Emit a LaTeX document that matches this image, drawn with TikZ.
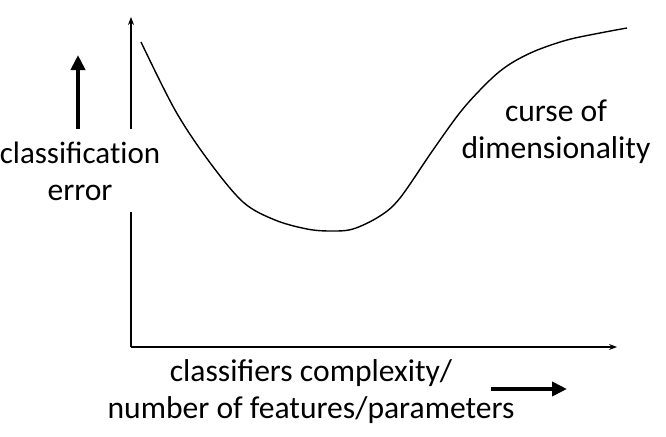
\documentclass[tikz,border=0pt]{standalone}
\usepackage{fontspec}
\setmainfont{Carlito}
\usetikzlibrary{arrows.meta}
\begin{document}
\begin{tikzpicture}[x=1pt,y=-1pt,
  axis/.style={line width=1.1pt,-{Stealth[length=8pt,width=6pt]}},
  plainaxis/.style={line width=1.1pt},
  bigarrow/.style={line width=4pt,-{Triangle[length=15pt,width=14pt]}},
  lbl/.style={font=\fontsize{31.6}{36.5}\selectfont,align=center,inner sep=0pt,anchor=base},
  curve/.style={line width=1.4pt}]
\useasboundingbox (0,0) rectangle (666,436);
% axes
\coordinate (origin) at (131,347);
\coordinate (ygapbottom) at (131,212);
\coordinate (ygaptop) at (131,129);
\coordinate (ytip) at (131,17);
\coordinate (xtip) at (617,347);
\draw[plainaxis] (origin) -- (ygapbottom);
\draw[axis] (ygaptop) -- (ytip);
\draw[axis] (origin) -- (xtip);
% curve
\draw[curve] plot[smooth,tension=0.55] coordinates {(141,42) (175,110) (208,160) (243,202) (275,220) (307,229) (330,231) (353,229) (380,216) (400,198) (433,150) (462,110) (490,80) (510,64) (535,51) (567,40) (600,33) (627,28)};
% labels (anchor=base is the baseline of the last line)
\node[lbl] (ylabel) at (80,200) {\fontsize{31}{36.5}\selectfont classificat\kern0pt ion\\error};
\node[lbl] (xlabel) at (311,418) {classifiers complexity/\\number of features/parameters};
\node[lbl] (curse) at (556,158) {curse of\\dimensionality};
% thick arrows
\coordinate (uparrowstart) at (78,129);
\coordinate (uparrowtip) at (78,55);
\coordinate (rightarrowstart) at (491,389);
\coordinate (rightarrowtip) at (567,389);
\draw[bigarrow] (uparrowstart) -- (uparrowtip);
\draw[bigarrow] (rightarrowstart) -- (rightarrowtip);
\end{tikzpicture}
\end{document}
